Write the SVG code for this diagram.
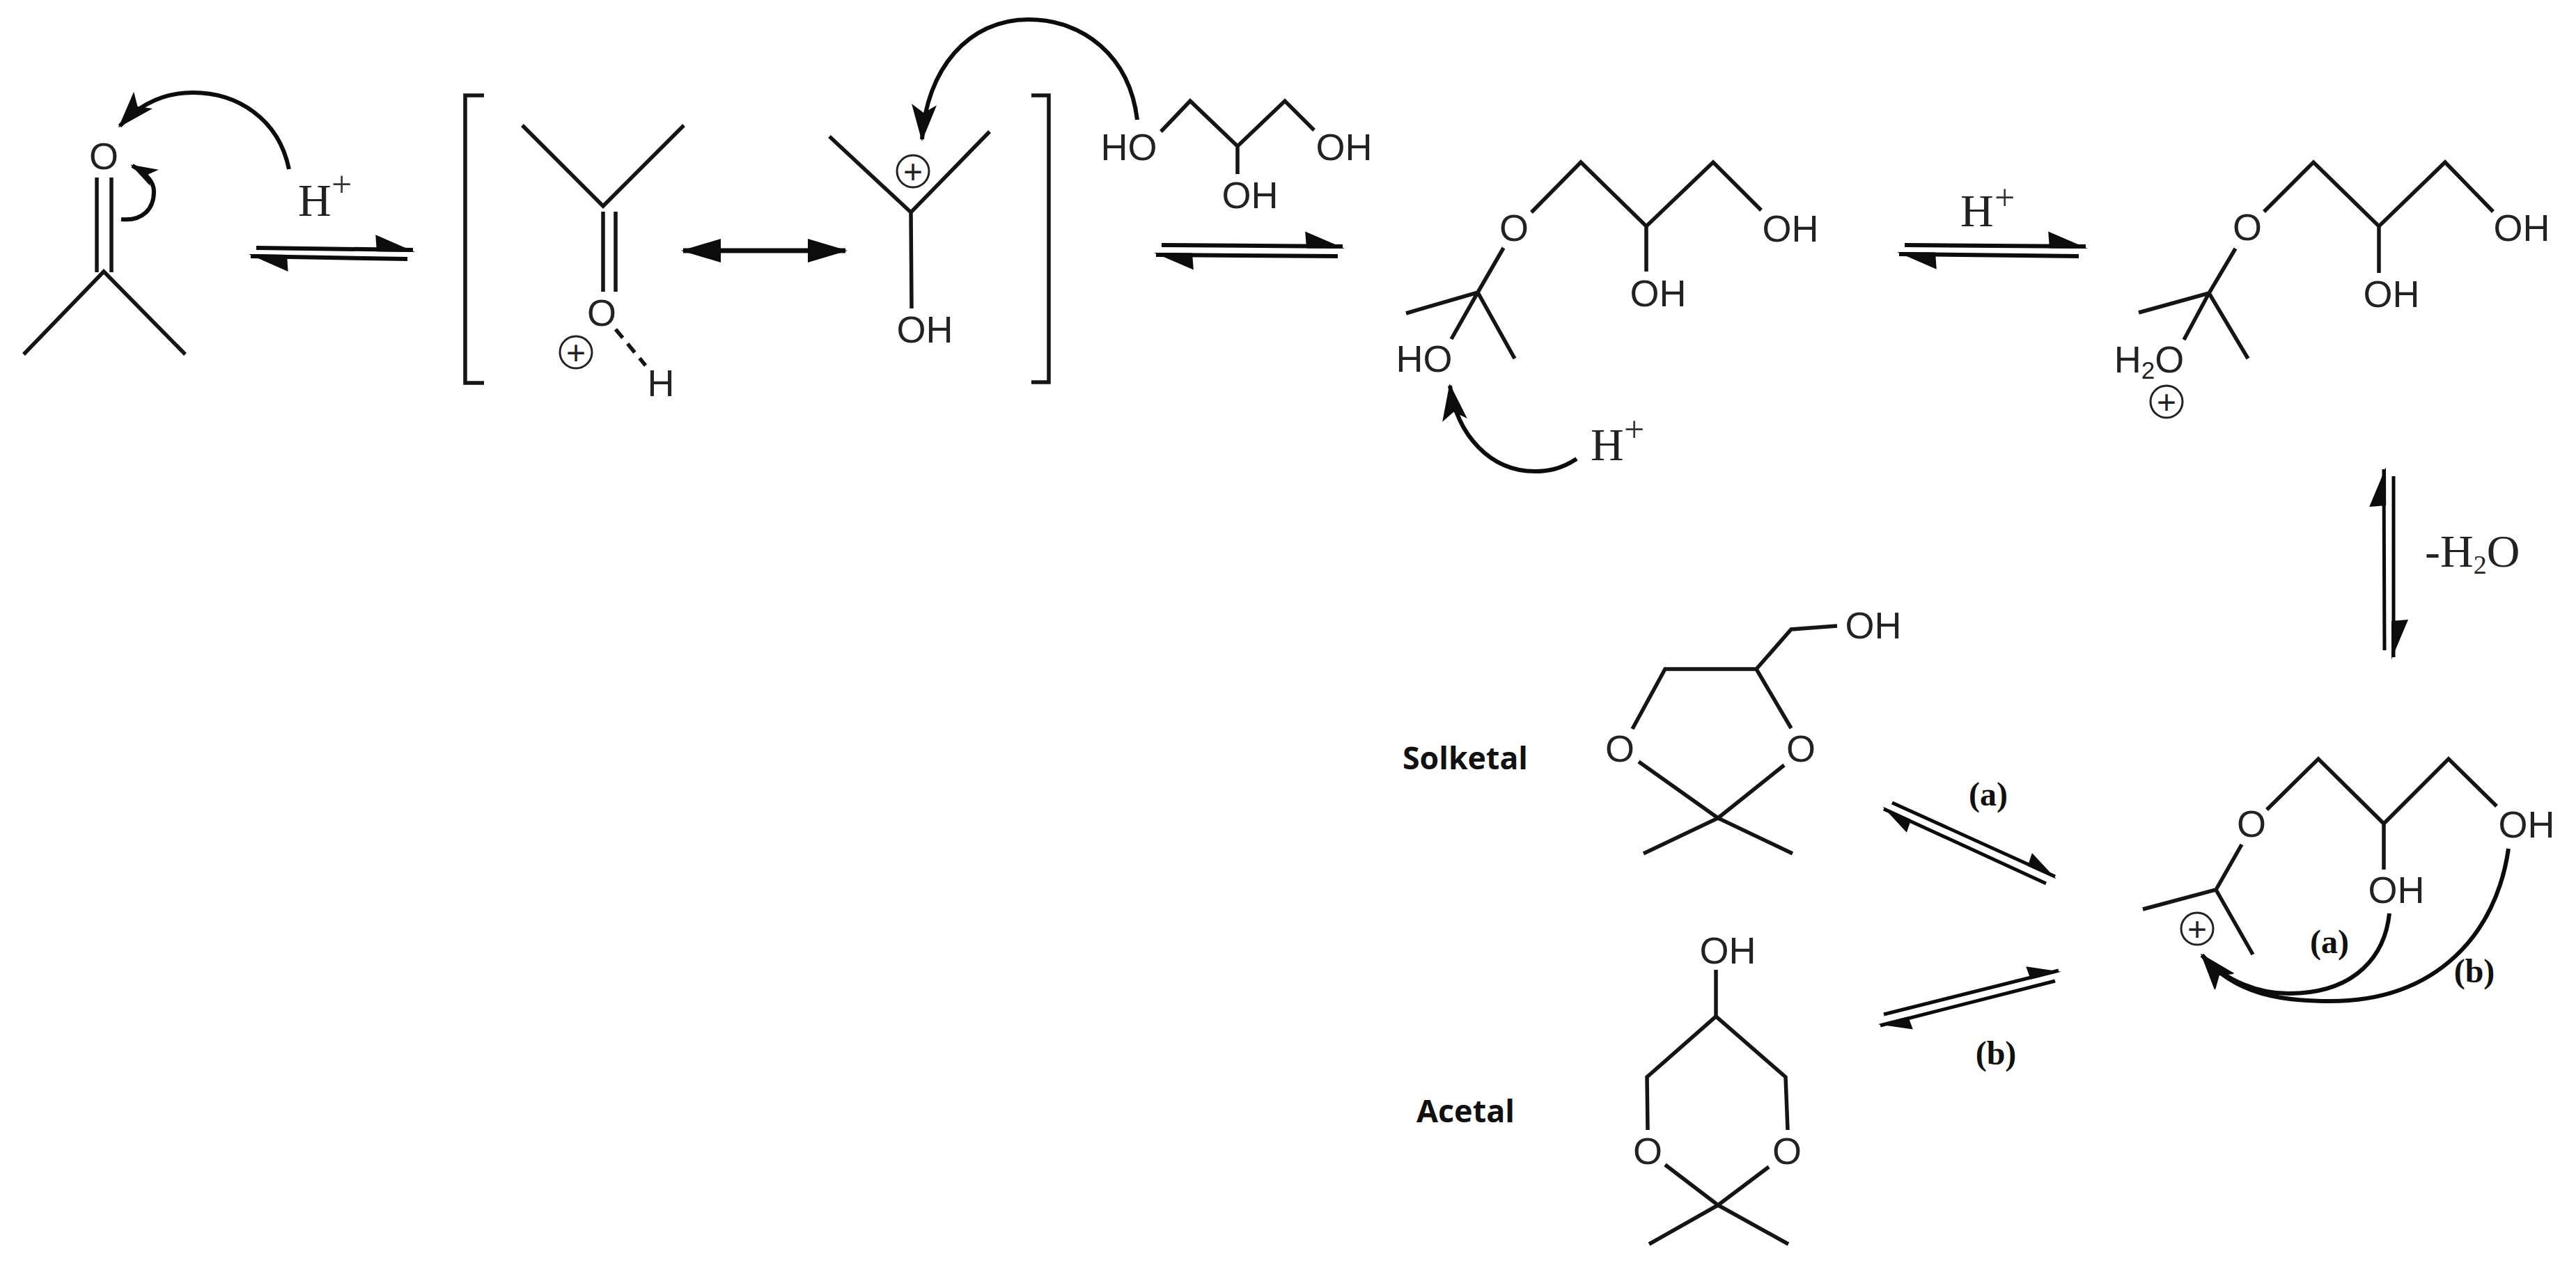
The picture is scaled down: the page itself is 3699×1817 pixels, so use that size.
<svg xmlns="http://www.w3.org/2000/svg" width="3699" height="1817" viewBox="0 0 3699 1817">
<style>
.b{fill:none;stroke:#151515;stroke-width:5.5;stroke-linecap:butt;stroke-linejoin:miter}
.eq{fill:none;stroke:#0c0c0c;stroke-width:6;marker-end:url(#half)}
.eqs{fill:none;stroke:#0c0c0c;stroke-width:5;marker-end:url(#halfs)}
.c{fill:none;stroke:#0c0c0c;stroke-width:6}
.a{font-family:"Liberation Sans",Arial,sans-serif;font-size:54px;fill:#222;text-anchor:middle}
.s{font-family:"Liberation Serif","Times New Roman",serif;font-size:66px;fill:#222}
.p{font-family:"Liberation Serif","Times New Roman",serif;font-size:52px;fill:#333}
.l{font-family:"Liberation Serif","Times New Roman",serif;font-size:48px;font-weight:bold;fill:#111;text-anchor:middle}
.n{font-family:"Open Sans","Liberation Sans",sans-serif;font-size:45px;font-weight:bold;fill:#111}
.ci{fill:none;stroke:#222;stroke-width:3}
.pl{font-family:"Liberation Sans",Arial,sans-serif;font-size:48px;fill:#222;text-anchor:middle}
</style>
<defs>
<marker id="half" markerUnits="userSpaceOnUse" viewBox="-62 -26 72 36" refX="0" refY="0" markerWidth="72" markerHeight="36" orient="auto"><polygon points="3,3 -54,-21 -52,3" fill="#0c0c0c"/></marker>
<marker id="halfs" markerUnits="userSpaceOnUse" viewBox="-62 -26 72 36" refX="0" refY="0" markerWidth="72" markerHeight="36" orient="auto"><polygon points="3,2.5 -44,-17 -42,2.5" fill="#0c0c0c"/></marker>
<marker id="head" markerUnits="userSpaceOnUse" viewBox="-58 -22 64 44" refX="0" refY="0" markerWidth="64" markerHeight="44" orient="auto"><polygon points="3,0 -50,-18 -38,0 -50,18" fill="#0c0c0c"/></marker>
<marker id="heads" markerUnits="userSpaceOnUse" viewBox="-44 -16 50 32" refX="0" refY="0" markerWidth="50" markerHeight="32" orient="auto"><polygon points="3,0 -36,-13 -26,0 -36,13" fill="#0c0c0c"/></marker>
<marker id="res" markerUnits="userSpaceOnUse" viewBox="-60 -20 64 40" refX="0" refY="0" markerWidth="64" markerHeight="40" orient="auto-start-reverse"><polygon points="3,0 -54,-17 -54,17" fill="#0c0c0c"/></marker>
</defs>

<g id="acetone">
<path class="b" d="M139,255V391M160,255V391M34,509L149,390L266,509"/>
<text class="a" x="149" y="243">O</text>
</g>
<g id="h-plus-1"><text class="s" x="428" y="310">H</text><text class="p" x="476" y="282">+</text></g>

<g id="bracket-left"><path class="b" d="M695,137H668V550H695"/></g>
<g id="protonated-acetone">
<path class="b" d="M750,180L866,296L982,180M866,304V419M884,304V419"/>
<path class="b" d="M884,473L927,525" stroke-dasharray="16 11"/>
<text class="a" x="864" y="468">O</text>
<text class="a" x="949" y="569">H</text>
<ellipse class="ci" cx="827" cy="506" rx="23" ry="23"/><text class="pl" x="827" y="523">+</text>
</g>
<g id="carbocation">
<path class="b" d="M1191,196L1308,305L1421,189M1308,305L1309,443"/>
<ellipse class="ci" cx="1311" cy="246" rx="23" ry="23"/><text class="pl" x="1311" y="263">+</text>
<text class="a" x="1328" y="492">OH</text>
</g>
<g id="bracket-right"><path class="b" d="M1481,137H1506V549H1481"/></g>

<g id="glycerol">
<path class="b" d="M1667,189L1709,145L1777,210L1845,145L1887,187M1777,210V250"/>
<text class="a" x="1621" y="230">HO</text>
<text class="a" x="1930" y="230">OH</text>
<text class="a" x="1795" y="299">OH</text>
</g>

<g id="hemiketal">
<path class="b" d="M2199,305L2270,233L2364,325L2460,233L2529,302M2364,325V390M2159,356L2122,420L2084,487M2019,450L2122,420L2175,515"/>
<text class="a" x="2174" y="346">O</text>
<text class="a" x="2571" y="347">OH</text>
<text class="a" x="2381" y="440">OH</text>
<text class="a" x="2045" y="534">HO</text>
</g>
<g id="h-plus-2"><text class="s" x="2284" y="661">H</text><text class="p" x="2332" y="634">+</text></g>
<g id="h-plus-3"><text class="s" x="2815" y="325">H</text><text class="p" x="2864" y="301">+</text></g>

<g id="protonated-hemiketal">
<path class="b" d="M3251,304L3322,233L3416,325L3511,233L3580,304M3416,325V392M3210,357L3172,421L3136,488M3071,449L3172,421L3228,515"/>
<text class="a" x="3227" y="345">O</text>
<text class="a" x="3621" y="346">OH</text>
<text class="a" x="3434" y="441">OH</text>
<text class="a" x="3086" y="535">H<tspan font-size="35" dy="9">2</tspan><tspan dy="-9">O</tspan></text>
<ellipse class="ci" cx="3111" cy="577" rx="23" ry="23"/><text class="pl" x="3111" y="594">+</text>
</g>
<g id="minus-water"><text class="s" x="3482" y="814" font-size="62">-H<tspan font-size="38" dy="10">2</tspan><tspan dy="-10">O</tspan></text></g>

<g id="oxocarbenium">
<path class="b" d="M3255,1163L3329,1090L3423,1183L3516,1090L3585,1158M3423,1183V1249M3219,1213L3182,1278L3077,1306M3182,1278L3235,1371"/>
<text class="a" x="3233" y="1202">O</text>
<text class="a" x="3628" y="1203">OH</text>
<text class="a" x="3441" y="1297">OH</text>
<ellipse class="ci" cx="3155" cy="1334" rx="23" ry="23"/><text class="pl" x="3155" y="1351">+</text>
</g>
<g id="label-a-1"><text class="l" x="3345" y="1369">(a)</text></g>
<g id="label-b-1"><text class="l" x="3553" y="1411">(b)</text></g>
<g id="label-a-2"><text class="l" x="2855" y="1157">(a)</text></g>
<g id="label-b-2"><text class="l" x="2866" y="1529">(b)</text></g>

<g id="solketal">
<path class="b" d="M2344,1047L2391,961H2522L2572,1046M2522,961L2572,904L2638,899M2353,1094L2467,1175L2562,1099M2360,1226L2467,1175L2574,1226"/>
<text class="a" x="2326" y="1094">O</text>
<text class="a" x="2586" y="1094">O</text>
<text class="a" x="2690" y="917">OH</text>
</g>
<g id="solketal-label"><text class="n" x="2014" y="1105" textLength="180" lengthAdjust="spacingAndGlyphs">Solketal</text></g>

<g id="acetal">
<path class="b" d="M2464,1393V1460M2366,1623L2365,1547L2464,1460L2564,1547L2567,1623M2391,1673L2467,1731L2540,1676M2368,1787L2467,1731L2568,1787"/>
<text class="a" x="2481" y="1384">OH</text>
<text class="a" x="2366" y="1672">O</text>
<text class="a" x="2566" y="1672">O</text>
</g>
<g id="acetal-label"><text class="n" x="2034" y="1612" textLength="141" lengthAdjust="spacingAndGlyphs">Acetal</text></g>

<g id="connectors">
<path class="c" marker-end="url(#head)" d="M415,243C400,170 340,133 277,133C235,133 200,150 172,181"/>
<path class="c" marker-end="url(#heads)" d="M174,315C205,318 221,300 221,275C221,262 212,250 190,238"/>
<path class="c" marker-end="url(#head)" d="M1633,172C1622,80 1555,28 1477,28C1390,28 1330,100 1324,200"/>
<path class="c" marker-end="url(#head)" d="M2264,659C2240,675 2220,677 2204,677C2140,677 2092,625 2082,554"/>
<path class="c" marker-end="url(#head)" d="M3431,1312C3425,1370 3385,1427 3286,1427C3245,1427 3195,1410 3162,1372"/>
<path class="c" marker-end="url(#head)" d="M3602,1219C3585,1340 3500,1438 3346,1438C3280,1438 3210,1430 3162,1372"/>
<path class="c" marker-start="url(#res)" marker-end="url(#res)" d="M981,360H1214" style="stroke-width:7"/>
<path class="eq" d="M368,356L593,359"/><path class="eq" d="M585,372L360,368"/>
<path class="eq" d="M1668,352L1928,354"/><path class="eq" d="M1921,368L1660,366"/>
<path class="eq" d="M2735,352L2995,354"/><path class="eq" d="M2985,368L2727,365"/>
<path class="eq" d="M3424,934L3423,674" style="stroke-width:5"/><path class="eq" d="M3437,684L3437,944" style="stroke-width:5"/>
<path class="eqs" d="M2717,1153L2951,1259"/><path class="eqs" d="M2938,1269L2705,1162"/>
<path class="eqs" d="M2705,1457L2956,1394"/><path class="eqs" d="M2951,1409L2700,1473"/>
</g>
</svg>
